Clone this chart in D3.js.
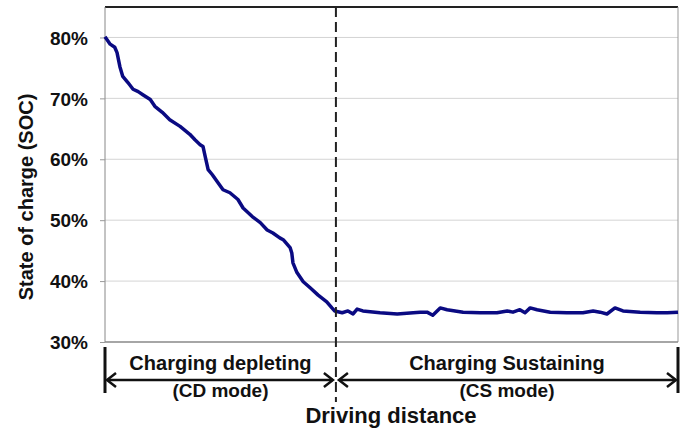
<!DOCTYPE html>
<html lang="en">
<head>
<meta charset="utf-8">
<style>
  html, body { margin:0; padding:0; background:#fff; overflow:hidden }
  svg { display:block }
  text { font-family: "Liberation Sans", Arial, sans-serif; font-weight: bold; fill:#111 }
  .grid line { stroke:#d4d4d4; stroke-width:1px }
</style>
</head>
<body>
<svg width="686" height="428"></svg>
<script src="https://cdn.jsdelivr.net/npm/d3@7/dist/d3.min.js"></script>
<script>
// driving distance (relative units, 0..100) and state of charge (%)
var distance = [0, 0.9, 1.7, 2.1, 2.6, 3.1, 4.0, 4.9, 5.8, 6.6, 7.9, 8.7, 10.0, 11.3, 13.1, 14.8, 15.7,
  16.6, 17.1, 17.5, 18.0, 18.7, 19.6, 20.6, 21.8, 23.2, 24.1, 25.7, 27.1, 28.3, 29.3, 30.5, 31.1,
  32.3, 32.6, 32.8, 33.5, 34.6, 35.8, 37.2, 38.7, 39.6, 40.1, 41.4, 42.4, 43.3, 44.0, 45.0, 48.0,
  51.0, 53.8, 55.0, 56.2, 57.2, 58.5, 59.7, 62.5, 65.5, 68.4, 70.2, 71.2, 72.4, 73.3, 74.2, 75.4,
  77.7, 80.6, 83.4, 85.2, 86.4, 87.6, 89.0, 90.4, 93.4, 96.3, 98.1, 100];
var soc = [80.1, 78.9, 78.4, 77.5, 75.2, 73.6, 72.6, 71.5, 71.1, 70.6, 69.8, 68.7, 67.7, 66.5, 65.4, 64.1, 63.2,
  62.4, 62.1, 60.4, 58.3, 57.5, 56.3, 55.0, 54.5, 53.4, 52.0, 50.6, 49.6, 48.4, 47.9, 47.1, 46.8,
  45.5, 44.6, 43.0, 41.4, 39.9, 38.9, 37.7, 36.6, 35.6, 35.1, 34.8, 35.1, 34.6, 35.4, 35.1, 34.8,
  34.6, 34.8, 34.9, 34.9, 34.4, 35.6, 35.3, 34.9, 34.8, 34.8, 35.1, 34.9, 35.3, 34.8, 35.6, 35.3,
  34.9, 34.8, 34.8, 35.1, 34.9, 34.6, 35.6, 35.1, 34.9, 34.8, 34.8, 34.9];

var yTicks = [30, 40, 50, 60, 70, 80];
var cdEnd = 40.3;   // end of charge-depleting mode
var modeLabels = [
  {name: "Charging depleting", mode: "(CD mode)", from: 0, to: cdEnd},
  {name: "Charging Sustaining", mode: "(CS mode)", from: cdEnd, to: 100}
];

var svg = d3.select("svg");
var x = d3.scaleLinear().domain([0, 100]).range([105, 678]);
var y = d3.scaleLinear().domain([30, 85]).range([342, 7]);

// gridlines
svg.append("g").attr("class", "grid")
  .selectAll("line").data(yTicks.slice(1)).enter().append("line")
  .attr("x1", x(0)).attr("x2", x(100))
  .attr("y1", function (d) { return y(d); }).attr("y2", function (d) { return y(d); });

// frame: top dark, right grey
svg.append("line").attr("x1", x(0)).attr("x2", x(100)).attr("y1", y(85)).attr("y2", y(85))
  .attr("stroke", "#222").attr("stroke-width", 2);
svg.append("line").attr("x1", x(100)).attr("x2", x(100)).attr("y1", y(85)).attr("y2", y(30))
  .attr("stroke", "#999").attr("stroke-width", 1);

// y axis
var yAxis = svg.append("g").attr("transform", "translate(" + x(0) + ",0)")
  .call(d3.axisLeft(y).tickValues(yTicks).tickSize(5).tickPadding(12)
    .tickFormat(function (d) { return d + "%"; }));
yAxis.select(".domain").attr("stroke", "#888").attr("d", "M0," + y(85) + "V" + y(30));
yAxis.selectAll(".tick line").attr("stroke", "#999");
yAxis.selectAll(".tick text").attr("font-size", 19).attr("dy", "0.35em")
  .attr("font-family", "Liberation Sans, Arial, sans-serif").attr("font-weight", "bold").attr("fill", "#111");

// x axis baseline
svg.append("line").attr("x1", x(0)).attr("x2", x(100)).attr("y1", y(30)).attr("y2", y(30))
  .attr("stroke", "#888").attr("stroke-width", 1.5);

// SOC curve
var line = d3.line()
  .x(function (d, i) { return x(distance[i]); })
  .y(function (d) { return y(d); });
svg.append("path").datum(soc)
  .attr("d", line)
  .attr("fill", "none")
  .attr("stroke", "#0a0a82")
  .attr("stroke-width", 3.5)
  .attr("stroke-linejoin", "round");

// dashed mode separator
svg.append("line").attr("x1", x(cdEnd)).attr("x2", x(cdEnd)).attr("y1", y(85)).attr("y2", 402)
  .attr("stroke", "#222").attr("stroke-width", 2).attr("stroke-dasharray", "10,5");

// end bars
[0, 100].forEach(function (v) {
  svg.append("line").attr("x1", x(v)).attr("x2", x(v)).attr("y1", 347).attr("y2", 393)
    .attr("stroke", "#111").attr("stroke-width", 3);
});

// arrows
var ay = 380, gap = 3;
modeLabels.forEach(function (m) {
  var x1 = x(m.from) + (m.from === 0 ? 2 : gap), x2 = x(m.to) - (m.to === 100 ? 2 : gap);
  svg.append("line").attr("x1", x1).attr("x2", x2).attr("y1", ay).attr("y2", ay)
    .attr("stroke", "#111").attr("stroke-width", 2.5);
  svg.append("path").attr("d", "M" + (x1 + 9) + "," + (ay - 7) + "L" + x1 + "," + ay + "L" + (x1 + 9) + "," + (ay + 7))
    .attr("fill", "none").attr("stroke", "#111").attr("stroke-width", 2.5);
  svg.append("path").attr("d", "M" + (x2 - 9) + "," + (ay - 7) + "L" + x2 + "," + ay + "L" + (x2 - 9) + "," + (ay + 7))
    .attr("fill", "none").attr("stroke", "#111").attr("stroke-width", 2.5);
  var cx = (x(m.from) + x(m.to)) / 2;
  svg.append("text").attr("x", cx).attr("y", 370).attr("text-anchor", "middle")
    .attr("font-size", 20).text(m.name);
  svg.append("text").attr("x", cx).attr("y", 397).attr("text-anchor", "middle")
    .attr("font-size", 19).text(m.mode);
});

// axis titles
svg.append("text").attr("x", 391).attr("y", 423).attr("text-anchor", "middle")
  .attr("font-size", 22).text("Driving distance");
svg.append("text").attr("transform", "translate(33,197) rotate(-90)")
  .attr("text-anchor", "middle").attr("font-size", 20).text("State of charge (SOC)");
</script>
</body>
</html>
